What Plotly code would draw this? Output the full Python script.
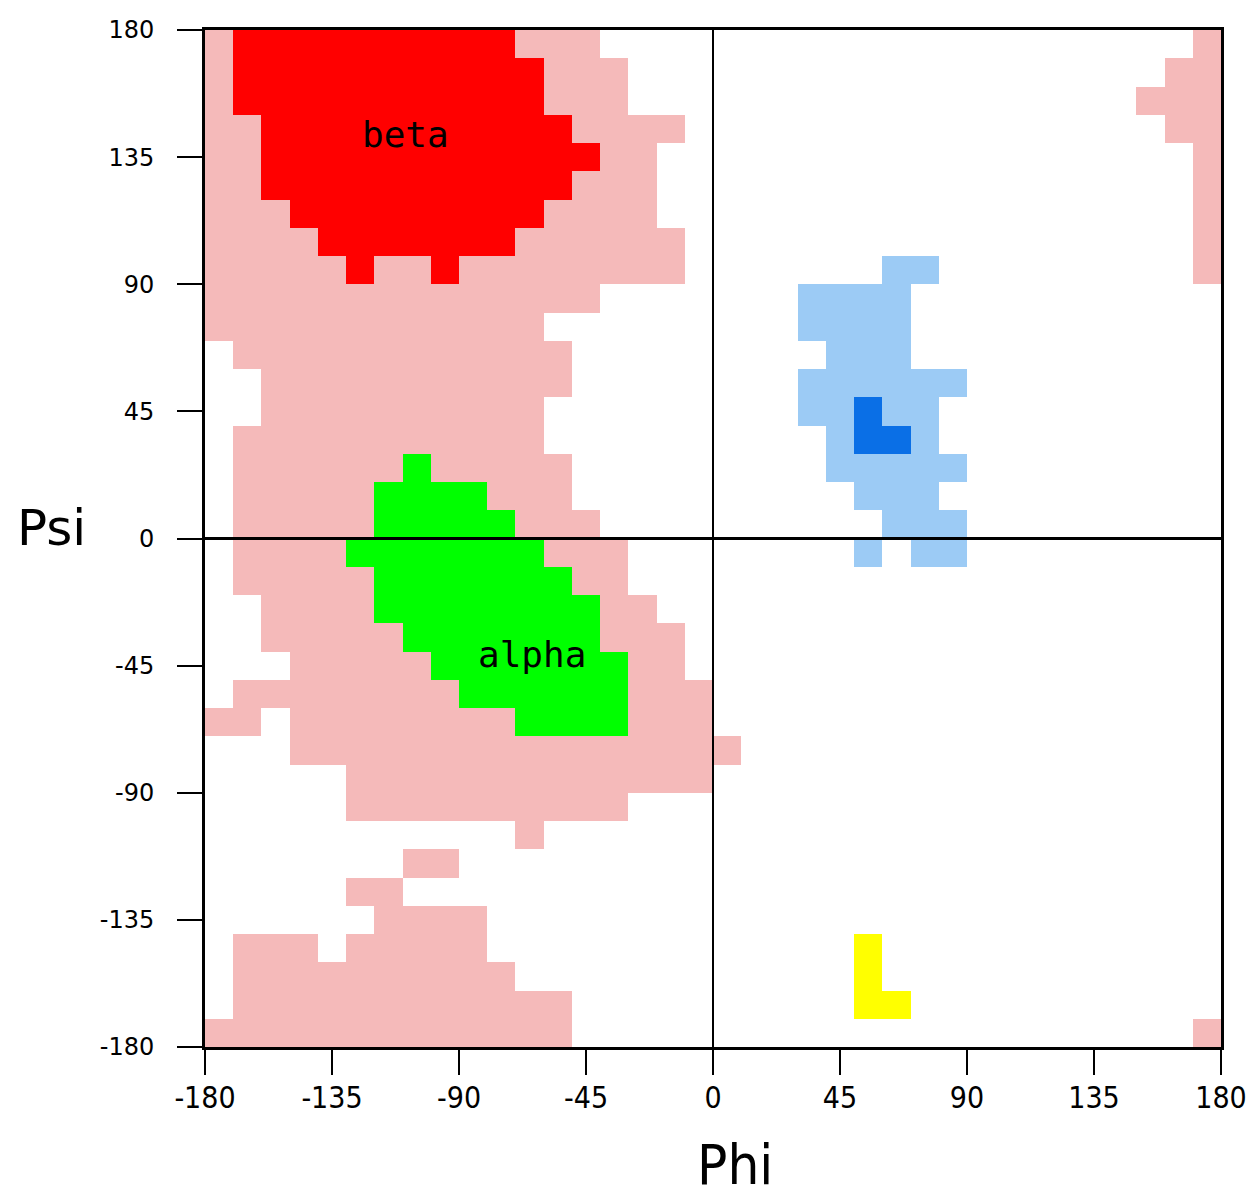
import plotly.graph_objects as go

# ---------------- data ----------------
phi_ticks = [-180, -135, -90, -45, 0, 45, 90, 135, 180]
phi_labels = ["-180", "-135", "-90", "-45", "0", "45", "90", "135", "180"]
psi_ticks = [-180, -135, -90, -45, 0, 45, 90, 135, 180]
psi_labels = ["-180", "-135", "-90", "-45", "0", "45", "90", "135", "180"]

cell = 10  # degrees per grid cell
categories = ["disallowed", "allowed", "beta", "alpha", "left-allowed", "left-core", "L"]
colors = ["#FFFFFF", "#F5BABA", "#FF0000", "#00FF00", "#9CCBF5", "#0A6FE6", "#FFFF00"]

# each region: psi lower bound of a 10-degree row -> list of (phi_from, phi_to) runs
allowed = {
    170: [(-180, -40), (170, 180)],
    160: [(-180, -30), (160, 180)],
    150: [(-180, -30), (150, 180)],
    140: [(-180, -10), (160, 180)],
    130: [(-180, -20), (170, 180)],
    120: [(-180, -20), (170, 180)],
    110: [(-180, -20), (170, 180)],
    100: [(-180, -10), (170, 180)],
    90: [(-180, -10), (170, 180)],
    80: [(-180, -40)],
    70: [(-180, -60)],
    60: [(-170, -50)],
    50: [(-160, -50)],
    40: [(-160, -60)],
    30: [(-170, -60)],
    20: [(-170, -50)],
    10: [(-170, -50)],
    0: [(-170, -40)],
    -10: [(-170, -30)],
    -20: [(-170, -30)],
    -30: [(-160, -20)],
    -40: [(-160, -10)],
    -50: [(-150, -10)],
    -60: [(-170, 0)],
    -70: [(-180, -160), (-150, 0)],
    -80: [(-150, 10)],
    -90: [(-130, 0)],
    -100: [(-130, -30)],
    -110: [(-70, -60)],
    -120: [(-110, -90)],
    -130: [(-130, -110)],
    -140: [(-120, -80)],
    -150: [(-170, -140), (-130, -80)],
    -160: [(-170, -70)],
    -170: [(-170, -50)],
    -180: [(-180, -50), (170, 180)],
}
beta = {
    170: [(-170, -70)],
    160: [(-170, -60)],
    150: [(-170, -60)],
    140: [(-160, -50)],
    130: [(-160, -40)],
    120: [(-160, -50)],
    110: [(-150, -60)],
    100: [(-140, -70)],
    90: [(-130, -120), (-100, -90)],
}
alpha = {
    20: [(-110, -100)],
    10: [(-120, -80)],
    0: [(-120, -70)],
    -10: [(-130, -60)],
    -20: [(-120, -50)],
    -30: [(-120, -40)],
    -40: [(-110, -40)],
    -50: [(-100, -30)],
    -60: [(-90, -30)],
    -70: [(-70, -30)],
}
left_allowed = {
    90: [(60, 80)],
    80: [(30, 70)],
    70: [(30, 70)],
    60: [(40, 70)],
    50: [(30, 90)],
    40: [(30, 80)],
    30: [(40, 80)],
    20: [(40, 90)],
    10: [(50, 80)],
    0: [(60, 90)],
    -10: [(50, 60), (70, 90)],
}
left_core = {
    40: [(50, 60)],
    30: [(50, 70)],
}
l_region = {
    -150: [(50, 60)],
    -160: [(50, 60)],
    -170: [(50, 70)],
}

region_labels = ["beta", "alpha"]
region_label_phi = [-109, -64]
region_label_psi = [143, -41]

# ---------------- build grid ----------------
n = 360 // cell
centers = [-180 + cell / 2 + cell * k for k in range(n)]
z = [[0] * n for _ in range(n)]


def paint(runs, val):
    for psi_low, spans in runs.items():
        j = (psi_low + 180) // cell
        for a, b in spans:
            for phi_low in range(a, b, cell):
                i = (phi_low + 180) // cell
                z[j][i] = val


for val, runs in enumerate([allowed, beta, alpha, left_allowed, left_core, l_region], start=1):
    paint(runs, val)

nc = len(colors)
colorscale = [[k / (nc - 1), c] for k, c in enumerate(colors)]

fig = go.Figure()
fig.add_trace(go.Heatmap(
    x=centers, y=centers, z=z,
    zmin=0, zmax=nc - 1, colorscale=colorscale,
    showscale=False, hoverinfo="skip",
))

# zero lines drawn above the regions
fig.add_shape(type="line", xref="x", yref="paper", x0=0, x1=0, y0=0, y1=1,
              line=dict(color="black", width=2), layer="above")
fig.add_shape(type="line", xref="paper", yref="y", x0=0, x1=1, y0=0, y1=0,
              line=dict(color="black", width=3), layer="above")

for t, px, py in zip(region_labels, region_label_phi, region_label_psi):
    fig.add_annotation(x=px, y=py, text=t, showarrow=False,
                       xanchor="center", yanchor="middle",
                       font=dict(family="DejaVu Sans Mono", size=36, color="black"))

fig.add_annotation(xref="paper", yref="paper", x=-0.151, y=0.51, text="Psi",
                   xanchor="center", yanchor="middle", showarrow=False,
                   font=dict(family="DejaVu Sans", size=50, color="black"))
fig.add_annotation(xref="paper", yref="paper", x=0.5217, y=-0.116, text="Phi",
                   xanchor="center", yanchor="middle", showarrow=False,
                   font=dict(family="Liberation Sans Narrow, DejaVu Sans Condensed, Liberation Sans",
                             size=56, color="black"))

axis_common = dict(
    range=[-180, 180], showgrid=False, zeroline=False,
    showline=True, linecolor="black", linewidth=3, mirror=True,
    ticks="outside", ticklen=25, tickwidth=2, tickcolor="black",
    layer="above traces", automargin=False,
)
fig.update_xaxes(**axis_common, tickmode="array", tickvals=phi_ticks, ticktext=phi_labels,
                 ticklabelstandoff=-3,
                 tickfont=dict(family="Liberation Sans Narrow, DejaVu Sans Condensed, Liberation Sans",
                               size=30, color="black"))
fig.update_yaxes(**axis_common, tickmode="array", tickvals=psi_ticks, ticktext=psi_labels,
                 ticklabelstandoff=18,
                 tickfont=dict(family="DejaVu Sans", size=24, color="black"))

fig.update_layout(
    width=1250, height=1196,
    margin=dict(l=197, r=37, t=22, b=157),
    paper_bgcolor="white", plot_bgcolor="white",
    showlegend=False,
)

fig.write_html("out.html")
